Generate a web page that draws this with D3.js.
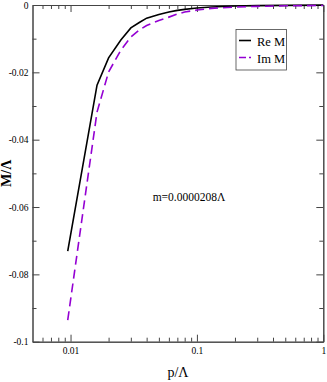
<!DOCTYPE html>
<html>
<head>
<meta charset="utf-8">
<script src="https://cdn.jsdelivr.net/npm/d3@7"></script>
<style>
  body { margin: 0; background: #fff; }
  svg text { font-family: "Liberation Serif", "Times New Roman", serif; }
  .axis path, .axis line { stroke: #444; }
  .axis text { font-size: 9.5px; fill: #000; }
</style>
</head>
<body>
<svg id="chart"></svg>
<script>
// momentum p/Λ
const pValues = [0.0095, 0.0162, 0.02, 0.025, 0.03, 0.035, 0.04, 0.05, 0.06, 0.07, 0.08, 0.1, 0.13, 0.2, 0.3, 0.5, 1];
// Re M / Λ
const reM = [-0.0731, -0.0238, -0.0157, -0.0104, -0.0068, -0.0052, -0.0039, -0.0028, -0.0021, -0.0016, -0.0013, -0.0009, -0.0006, -0.0003, -0.00018, -0.0001, -0.00005];
// Im M / Λ
const imM = [-0.0936, -0.0318, -0.0199, -0.0134, -0.0095, -0.0074, -0.0061, -0.0046, -0.0036, -0.0027, -0.0021, -0.0015, -0.0010, -0.0006, -0.0004, -0.00024, -0.00015];

const xMajor = [0.01, 0.1, 1];
const xMinor = [0.006, 0.007, 0.008, 0.009, 0.02, 0.03, 0.04, 0.05, 0.06, 0.07, 0.08, 0.09,
                0.2, 0.3, 0.4, 0.5, 0.6, 0.7, 0.8, 0.9];
const yMajor = [0, -0.02, -0.04, -0.06, -0.08, -0.1];
const yMinor = [-0.01, -0.03, -0.05, -0.07, -0.09];
const yLabels = ['0', '-0.02', '-0.04', '-0.06', '-0.08', '-0.1'];

const series = [
  {name: 'Re M', values: reM, color: '#000000', dash: null},
  {name: 'Im M', values: imM, color: '#9400d3', dash: '9,5'}
];

const config = {
  width: 327, height: 382,
  left: 32.5, right: 323.3, top: 5, bottom: 341.7,
  major: 7, minor: 4
};

const svg = d3.select('#chart')
  .attr('width', config.width)
  .attr('height', config.height);

const x = d3.scaleLog()
  .domain([0.005, 1])
  .range([config.left, config.right]);

const y = d3.scaleLinear()
  .domain([-0.1, 0])
  .range([config.bottom, config.top]);

// axes, ticks pointing inward on all four sides
function drawAxis(axisFn, scale, ticks, size, transform, fmt) {
  const g = svg.append('g')
    .attr('class', 'axis')
    .attr('transform', transform)
    .call(axisFn(scale)
      .tickValues(ticks)
      .tickSizeInner(-size)
      .tickSizeOuter(0)
      .tickPadding(4)
      .tickFormat(fmt));
  return g;
}

const noLabel = () => '';
const xFmt = d => d3.format('~g')(d);
const yFmt = d => yLabels[yMajor.indexOf(d)];

drawAxis(d3.axisBottom, x, xMajor, config.major, `translate(0,${config.bottom})`, xFmt);
drawAxis(d3.axisBottom, x, xMinor, config.minor, `translate(0,${config.bottom})`, noLabel);
drawAxis(d3.axisTop, x, xMajor, config.major, `translate(0,${config.top})`, noLabel);
drawAxis(d3.axisTop, x, xMinor, config.minor, `translate(0,${config.top})`, noLabel);
drawAxis(d3.axisLeft, y, yMajor, config.major, `translate(${config.left},0)`, yFmt);
drawAxis(d3.axisLeft, y, yMinor, config.minor, `translate(${config.left},0)`, noLabel);
drawAxis(d3.axisRight, y, yMajor, config.major, `translate(${config.right},0)`, noLabel);
drawAxis(d3.axisRight, y, yMinor, config.minor, `translate(${config.right},0)`, noLabel);

svg.selectAll('.axis text')
  .attr('dy', function() { return d3.select(this.parentNode.parentNode).attr('transform').includes(`,${config.bottom})`) ? '0.85em' : '0.32em'; });

// curves
const line = d3.line()
  .x((d, i) => x(pValues[i]))
  .y(d => y(d));

svg.append('g')
  .selectAll('path')
  .data(series)
  .join('path')
    .attr('fill', 'none')
    .attr('stroke', d => d.color)
    .attr('stroke-width', 1.6)
    .attr('stroke-dasharray', d => d.dash)
    .attr('d', d => line(d.values));

// axis titles
svg.append('text')
  .attr('x', (config.left + config.right) / 2)
  .attr('y', 377)
  .attr('text-anchor', 'middle')
  .style('font-size', '14px')
  .text('p/Λ');

svg.append('text')
  .attr('transform', `translate(11,${(config.top + config.bottom) / 2}) rotate(-90)`)
  .attr('text-anchor', 'middle')
  .style('font-size', '14px')
  .style('font-weight', 'bold')
  .text('M/Λ');

// annotation
svg.append('text')
  .attr('x', 189)
  .attr('y', 201)
  .attr('text-anchor', 'middle')
  .style('font-size', '11.5px')
  .text('m=0.0000208Λ');

// legend
const legend = svg.append('g')
  .attr('transform', 'translate(236,29.5)');

legend.append('rect')
  .attr('width', 50.5)
  .attr('height', 40.5)
  .attr('fill', '#fff')
  .attr('stroke', '#444')
  .attr('stroke-width', 0.8);

const entry = legend.selectAll('.legend-entry')
  .data(series)
  .join('g')
    .attr('class', 'legend-entry')
    .attr('transform', (d, i) => `translate(0,${11 + i * 17})`);

entry.append('line')
  .attr('x1', 3).attr('x2', 15)
  .attr('stroke', d => d.color)
  .attr('stroke-width', 1.6)
  .attr('stroke-dasharray', d => d.dash ? '7,3' : null);

entry.append('text')
  .attr('x', 21)
  .attr('y', 5)
  .style('font-size', '12.5px')
  .text(d => d.name);
</script>
</body>
</html>
